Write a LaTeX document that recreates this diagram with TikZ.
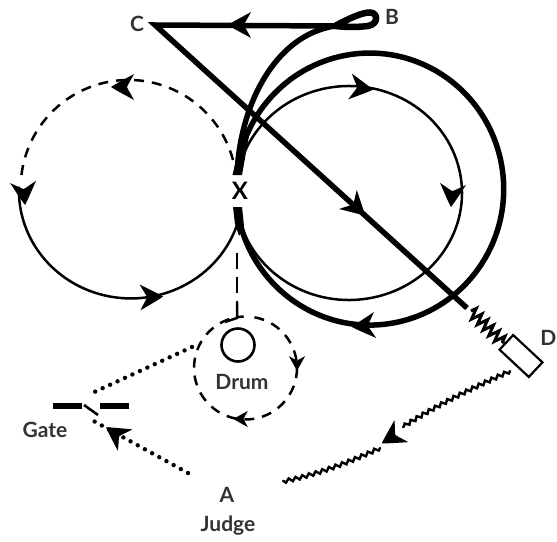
\documentclass[tikz,border=0pt]{standalone}
\usepackage{fontspec}
\setmainfont{Lato}
\usetikzlibrary{decorations.pathmorphing,calc}
\definecolor{lab}{HTML}{333333}
\tikzset{
  lbl/.style={font=\fontsize{21}{23}\selectfont\bfseries,text=lab,inner sep=0pt},
  mid line/.style={line width=2.5pt,black},
  thick line/.style={line width=5.5pt,black},
  dash line/.style={line width=2.5pt,dash pattern=on 10pt off 8pt},
  dot line/.style={line width=4.4pt,dash pattern=on 0pt off 8.2pt,line cap=round},
  bar/.style={line width=6pt},
  spring/.style={line width=3pt,decorate,decoration={zigzag,segment length=8pt,amplitude=5.5pt}},
  wavy/.style={line width=2.4pt,decorate,decoration={snake,segment length=7pt,amplitude=1.8pt},line cap=round},
  pics/head/.style={code={\fill[black] (12,0) .. controls (6,4) and (-4,9) .. (-11,13) .. controls (-8,7) and (-5,3) .. (-4,0) .. controls (-5,-3) and (-8,-7) .. (-11,-13) .. controls (-4,-9) and (6,-4) .. cycle;}}
}
\begin{document}
\begin{tikzpicture}[x=1pt,y=-1pt]
\useasboundingbox (0,0) rectangle (557,541);
% named points
\coordinate (xtop) at (237,174);
\coordinate (xbot) at (237,208);
\coordinate (lsol) at (238,222);
\coordinate (innc) at (349,193);
\coordinate (drumc) at (245.5,368);
\node[lbl,text=black,font=\fontsize{24}{26}\selectfont\bfseries] (X) at (240,191) {X};
\node[lbl] (C) at (137,24) {C};
\node[lbl] (B) at (392,17) {B};
\node[lbl,anchor=east] (D) at (556.5,338) {D};
\node[lbl] (Drum) at (242,382) {Drum};
\node[lbl] (Gate) at (45,430) {Gate};
\node[lbl] (A) at (227,495) {A};
\node[lbl] (Judge) at (228,526) {Judge};
\node[draw,line width=2.6pt,circle,minimum size=33pt,inner sep=0pt] (small) at (238,345) {};
\node[draw,line width=2.2pt,rotate=-43,minimum width=40pt,minimum height=20pt,inner sep=0pt] (box) at (521,356) {};
\coordinate (cpt) at (155,25);
\coordinate (diagend) at (467,308);
\coordinate (loopin) at (335,26);
% left circle
\draw[mid line] (lsol) arc[start angle=17,end angle=182,x radius=112,y radius=108];
\draw[dash line] (233,160) arc[start angle=-15,end angle=-176,radius=108];
% big thick circle
\draw[thick line] (xbot) arc[start angle=172,end angle=-173,x radius=134,y radius=136];
% inner circle
\draw[mid line] ($(innc)+(168:113 and 107)$) arc[start angle=168,end angle=-165,x radius=113,y radius=107];
% wedges where the lines meet at X
\fill[black] (233,207) -- (242,207) -- (244,226) -- (239,236) -- (235,224) -- cycle;
\fill[black] (232.5,175) -- (242,175) -- (250,130) -- (244,128) -- cycle;
% B curve and loop
\draw[thick line] (xtop) .. controls (240,105) and (275,35) .. (loopin);
\draw[line width=6.5pt] (loopin) .. controls (350,18) and (362,12.5) .. (370,12.5) .. controls (378,12.5) and (379,24) .. (368,26) .. controls (355,27.5) and (345,27) .. (loopin);
% triangle sides
\draw[thick line,line join=miter] (loopin) -- (cpt) -- (diagend);
% vertical dash + drum
\draw[dash line,dash pattern=on 16pt off 8pt on 16pt off 8pt] (237,253) -- (237,318);
\draw[line width=2.5pt] (237,302) -- (237,318) -- (225,322);
\draw[dash line] (drumc)+(-80:51.5) arc[start angle=-80,end angle=268,radius=51.5];
% gate
\draw[bar] (53,406) -- (82,406);
\draw[bar] (100,406) -- (129,406);
\draw[line width=2.6pt] (84,405) -- (98,415);
\draw[dot line] (192,347) -- (90,394);
\draw[dot line] (188,473) -- (90,419);
% spring and wavy
\draw[spring] (471,311) -- (504,343);
\draw[wavy] (510,371) .. controls (480,385) and (445,400) .. (403,427);
\draw[wavy] (380,448) .. controls (350,462) and (315,475) .. (283,481);
% arrowheads
\pic[rotate=180] at (123,87) {head};
\pic[rotate=-85] at (24,193) {head};
\pic[rotate=2] at (151,297) {head};
\pic[rotate=-8] at (361,88) {head};
\pic[rotate=-95] at (452,195) {head};
\pic[rotate=-43] at (356,207) {head};
\pic[rotate=180] at (240,25) {head};
\pic[rotate=-175] at (364,326) {head};
\pic[rotate=-90,scale=.62] at (297,363) {head};
\pic[rotate=180,scale=.62] at (241,419) {head};
\pic[rotate=146] at (116,434) {head};
\pic[rotate=-148] at (392,437) {head};
\end{tikzpicture}
\end{document}
